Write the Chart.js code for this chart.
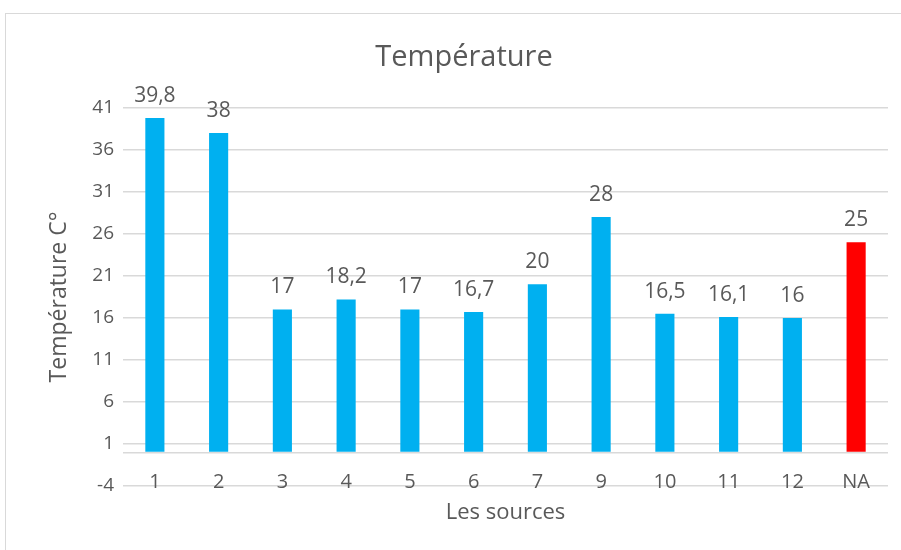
<!DOCTYPE html>
<html>
<head>
<meta charset="utf-8">
<script src="https://cdn.jsdelivr.net/npm/chart.js@4/dist/chart.umd.min.js"></script>
<style>
  html, body { margin: 0; padding: 0; background: #fff; overflow: hidden; }
  #frame { position: absolute; left: 5px; top: 13px; width: 920px; height: 560px; border: 1px solid #d9d9d9; box-sizing: border-box; }
  #wrap { position: absolute; left: 0; top: 0; width: 901px; height: 550px; }
</style>
</head>
<body>
<div id="frame"></div>
<div id="wrap"><canvas id="c" width="901" height="550"></canvas></div>
<script>
const categories = ['1', '2', '3', '4', '5', '6', '7', '9', '10', '11', '12', 'NA'];
const temperatures = [39.8, 38, 17, 18.2, 17, 16.7, 20, 28, 16.5, 16.1, 16, 25];
const yTickValues = [-4, 1, 6, 11, 16, 21, 26, 31, 36, 41];

const BLUE = '#00B0F0';
const RED = '#FF0000';
const TEXT = '#595959';
const GRID = '#D9D9D9';
const FONT = "'Open Sans', 'Noto Sans', sans-serif";

const valueLabels = {
  id: 'valueLabels',
  afterDatasetsDraw(chart) {
    const ctx = chart.ctx;
    const meta = chart.getDatasetMeta(0);
    ctx.save();
    ctx.fillStyle = TEXT;
    ctx.font = '21px ' + FONT;
    ctx.textAlign = 'center';
    ctx.textBaseline = 'middle';
    meta.data.forEach((bar, i) => {
      const v = chart.data.datasets[0].data[i];
      ctx.fillText(String(v).replace('.', ','), bar.x, bar.y - 22);
    });
    ctx.restore();
  }
};

new Chart(document.getElementById('c'), {
  type: 'bar',
  data: {
    labels: categories,
    datasets: [{
      data: temperatures,
      backgroundColor: categories.map(c => c === 'NA' ? RED : BLUE),
      barPercentage: 0.3,
      categoryPercentage: 1.0,
      borderWidth: 0
    }]
  },
  options: {
    responsive: false,
    animation: false,
    devicePixelRatio: 1,
    layout: { padding: { left: 40, right: 13, top: 20, bottom: 20 } },
    plugins: {
      legend: { display: false },
      tooltip: { enabled: false },
      title: {
        display: true,
        text: 'Température',
        color: TEXT,
        font: { family: FONT, size: 29, weight: 'normal' },
        padding: { top: 20, bottom: 33 }
      }
    },
    scales: {
      x: {
        offset: true,
        grid: { display: false, drawTicks: false },
        border: { display: false },
        ticks: { color: TEXT, font: { family: FONT, size: 20 }, padding: -8, mirror: true, maxRotation: 0, autoSkip: false },
        title: {
          display: true,
          text: 'Les sources',
          color: TEXT,
          font: { family: FONT, size: 22 },
          padding: { top: 0, bottom: 4 }
        },
        afterFit(scale) { scale.height = 44; }
      },
      y: {
        min: -4,
        max: 41,
        grid: { color: GRID, lineWidth: 1.5, drawTicks: false },
        border: { display: false },
        afterBuildTicks(scale) {
          scale.ticks = yTickValues.concat([0]).sort((a, b) => a - b).map(v => ({ value: v }));
        },
        ticks: {
          color: TEXT,
          font: { family: FONT, size: 19 },
          padding: 9,
          callback: (v) => v === 0 ? '' : String(v)
        },
        title: {
          display: true,
          text: 'Température C°',
          color: TEXT,
          font: { family: FONT, size: 23 },
          padding: { top: 6, bottom: 0 }
        },
        afterFit(scale) { scale.width = 83; }
      }
    }
  },
  plugins: [valueLabels]
});
</script>
</body>
</html>
